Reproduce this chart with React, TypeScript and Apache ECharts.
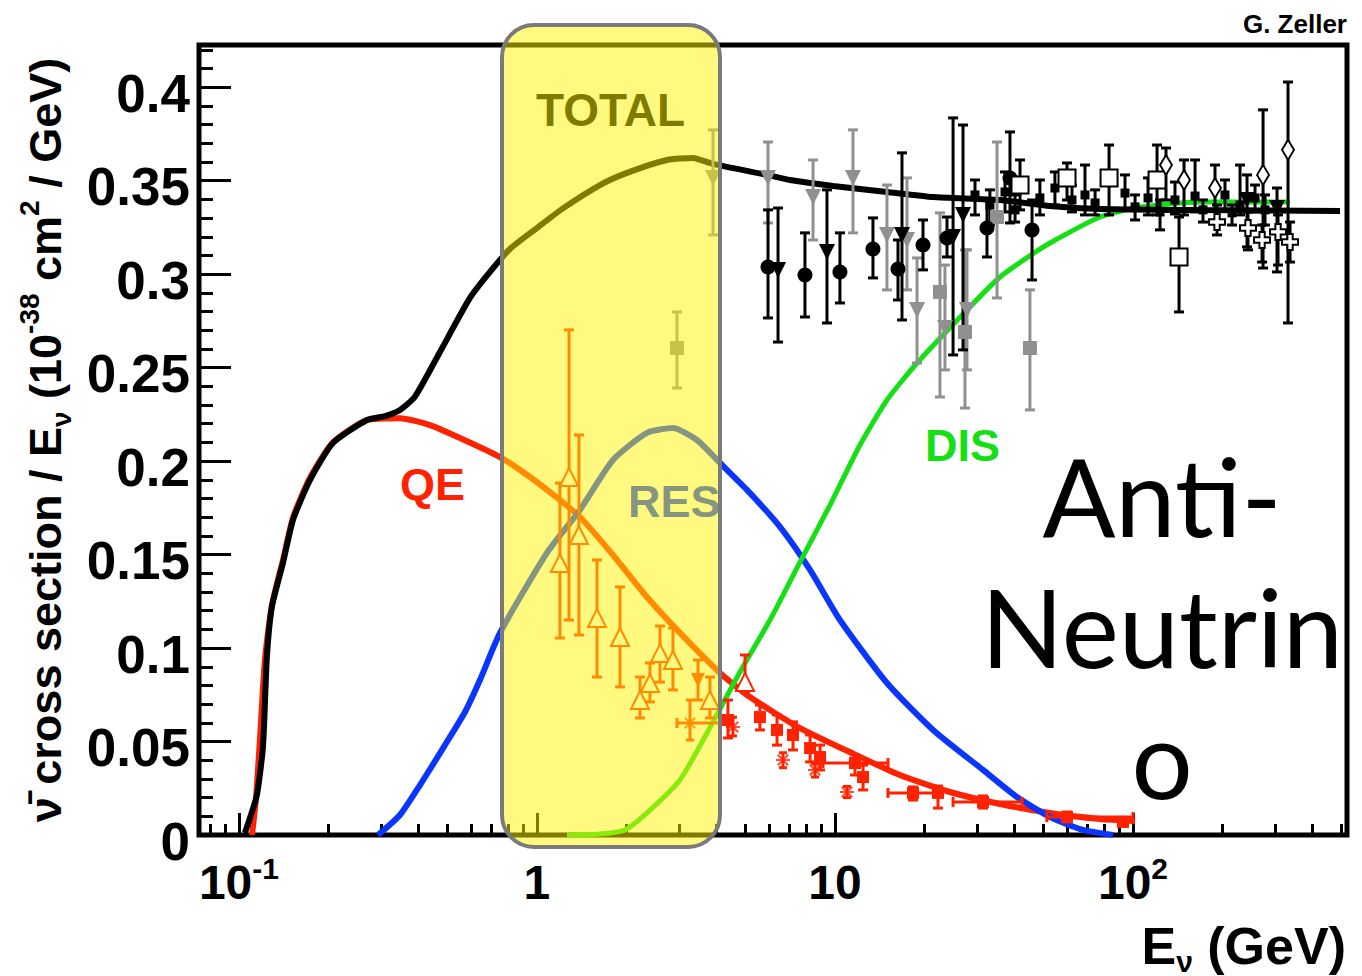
import React, { useEffect, useRef } from 'react';
import * as echarts from 'echarts';

const FONT = '"Liberation Sans", Arial, Helvetica, sans-serif';
const RED = '#ff2200';
const BLUE = '#0a35ff';
const GREEN = '#14e014';
const GRAY = '#909090';

// ---- axis ticks (energy in GeV, sigma/E in 1e-38 cm^2/GeV)
const xMajorTicks = [0.1, 1, 10, 100];
const xMinorTicks = [0.08, 0.09, 0.2, 0.3, 0.4, 0.5, 0.6, 0.7, 0.8, 0.9, 2, 3, 4, 5, 6, 7, 8, 9, 20, 30, 40, 50, 60, 70, 80, 90, 200, 300, 400, 500];
const yMajorTicks = [0, 0.05, 0.1, 0.15, 0.2, 0.25, 0.3, 0.35, 0.4];
const yMinorTicks = [0.01, 0.02, 0.03, 0.04, 0.06, 0.07, 0.08, 0.09, 0.11, 0.12, 0.13, 0.14, 0.16, 0.17, 0.18, 0.19, 0.21, 0.22, 0.23, 0.24, 0.26, 0.27, 0.28, 0.29, 0.31, 0.32, 0.33, 0.34, 0.36, 0.37, 0.38, 0.39, 0.41, 0.42];

// ---- model curves [E, sigma/E]
const totalCurve = [[0.1047, 0.0011], [0.1089, 0.0091], [0.1149, 0.0214], [0.1204, 0.0471], [0.1241, 0.0952], [0.129, 0.122], [0.1405, 0.1455], [0.1518, 0.1685], [0.1731, 0.1899], [0.2067, 0.2097], [0.2688, 0.222], [0.309, 0.2241], [0.347, 0.2274], [0.3896, 0.2345], [0.4726, 0.2584], [0.5959, 0.2873], [0.6955, 0.3012], [0.8118, 0.3135], [1.0, 0.3247], [1.222, 0.3352], [1.627, 0.3477], [2.004, 0.3542], [2.731, 0.3611], [3.338, 0.3622], [3.896, 0.359], [5.913, 0.3531], [7.063, 0.3504], [9.847, 0.3472], [14.94, 0.344], [21.33, 0.3413], [35.79, 0.3397], [52.66, 0.3365], [77.5, 0.3349], [167.8, 0.3343], [495, 0.3338]];
const qeCurve = [[0.1106, 0], [0.114, 0.019], [0.1176, 0.051], [0.1222, 0.0936], [0.129, 0.123], [0.1405, 0.147], [0.152, 0.17], [0.173, 0.191], [0.2067, 0.21], [0.2688, 0.222], [0.347, 0.223], [0.4375, 0.2193], [0.5515, 0.2124], [0.7515, 0.2022], [0.9474, 0.1915], [1.194, 0.1792], [1.394, 0.1701], [1.799, 0.1498], [2.339, 0.1273], [3.019, 0.1081], [4.113, 0.0867], [5.186, 0.0738], [7.63, 0.0572], [11.2, 0.0444], [16.5, 0.0321], [24.3, 0.023], [35.8, 0.0166], [52.6, 0.0118], [77.5, 0.0086], [101.6, 0.0075]];
const resCurve = [[0.2927, 0], [0.347, 0.0107], [0.405, 0.0267], [0.4912, 0.0481], [0.5734, 0.0658], [0.6437, 0.0829], [0.7515, 0.1081], [1.08, 0.1509], [1.394, 0.1739], [1.799, 0.2006], [2.339, 0.2151], [2.86, 0.2177], [3.443, 0.2113], [4.113, 0.199], [5.067, 0.1846], [6.539, 0.1648], [8.246, 0.1418], [10.39, 0.115], [14.94, 0.0813], [21.33, 0.0562], [31.38, 0.0348], [40.8, 0.0203], [52.66, 0.0096], [67.96, 0.0027], [85.7, 0]];
const disCurve = [[1.261, 0], [1.627, 0.0005], [1.974, 0.0027], [2.339, 0.0118], [3.019, 0.0294], [3.896, 0.0605], [4.8, 0.0872], [6.051, 0.115], [7.63, 0.146], [9.621, 0.1765], [12.13, 0.2086], [14.94, 0.2327], [18.85, 0.2525], [27.73, 0.2809], [35.79, 0.2985], [44.43, 0.3092], [52.66, 0.3167], [77.5, 0.3306], [105.6, 0.3359], [167.8, 0.3386], [336.4, 0.3386]];

// ---- measurements [E, value, low, high]
const grayDownTri = [[5.96, 0.3515, 0.3274, 0.3707], [8.44, 0.3413, 0.3183, 0.3611], [11.49, 0.3515, 0.3221, 0.3772], [14.94, 0.321, 0.2916, 0.3477], [17.44, 0.3183, 0.2916, 0.3515], [18.85, 0.2809, 0.2525, 0.3087], [23.39, 0.2712, 0.2488, 0.3049], [27.73, 0.2809, 0.2488, 0.313], [3.896, 0.3515, 0.321, 0.3772]];
const graySquare = [[2.95, 0.2605, 0.2391, 0.2798], [22.5, 0.2905, 0.2343, 0.3328], [27.3, 0.2691, 0.2284, 0.313], [34.97, 0.3306, 0.2873, 0.3707], [45.1, 0.2605, 0.2274, 0.2916]];
const blackCircle = [[5.96, 0.3039, 0.2766, 0.3344], [7.93, 0.2996, 0.2771, 0.3221], [10.39, 0.3012, 0.2846, 0.3221], [13.41, 0.3135, 0.298, 0.3301], [16.27, 0.3028, 0.2862, 0.3183], [19.74, 0.3156, 0.3023, 0.329], [23.76, 0.3194, 0.3092, 0.3306], [32.36, 0.3247, 0.3092, 0.3397], [38.65, 0.3515, 0.3274, 0.3761], [45.83, 0.3237, 0.2969, 0.3397]];
const blackDownTri = [[6.44, 0.3023, 0.2637, 0.3354], [9.4, 0.3119, 0.2739, 0.3451], [16.78, 0.321, 0.2755, 0.3649], [24.9, 0.3199, 0.2568, 0.3836], [26.89, 0.3317, 0.2595, 0.3798], [304.2, 0.3354, 0.3012, 0.3461], [241.3, 0.3397, 0.3146, 0.3531]];
const blackSmall = [[29.5, 0.3424, 0.3317, 0.3504], [33.1, 0.337, 0.3263, 0.3451], [37.2, 0.344, 0.3333, 0.3547], [40.2, 0.3344, 0.3279, 0.3424], [48.7, 0.3408, 0.3317, 0.3504], [54.7, 0.3461, 0.337, 0.3547], [62.4, 0.3397, 0.3333, 0.3477], [69.0, 0.3424, 0.3317, 0.3584], [74.6, 0.3381, 0.3317, 0.3451], [94.0, 0.3434, 0.3344, 0.3531], [101.6, 0.336, 0.329, 0.3424], [112.3, 0.3408, 0.3317, 0.3515], [123.2, 0.3333, 0.3237, 0.3397], [138.3, 0.3397, 0.3322, 0.3493], [161.5, 0.3418, 0.3333, 0.3611], [171.7, 0.3344, 0.3279, 0.3397], [203.5, 0.3424, 0.3344, 0.3504], [214.9, 0.3328, 0.3263, 0.337], [228.6, 0.337, 0.3317, 0.3584], [256.7, 0.3408, 0.3333, 0.3477], [277.3, 0.3344, 0.3263, 0.3424]];
const openSquare = [[142.7, 0.3092, 0.2798, 0.3306], [83.1, 0.3515, 0.3317, 0.3691], [60.05, 0.3515, 0.3397, 0.3595], [120.4, 0.3504, 0.3317, 0.3691], [41.77, 0.3477, 0.3344, 0.3611]];
const openDiamond = [[129.0, 0.3584, 0.3397, 0.3675], [148.3, 0.3504, 0.3317, 0.3611], [273.1, 0.3531, 0.3033, 0.3879], [331.2, 0.3665, 0.2739, 0.4028], [188.4, 0.3461, 0.3344, 0.3584]];
const openCross = [[191.4, 0.3279, 0.321, 0.337], [243.1, 0.3247, 0.313, 0.3333], [271.0, 0.3183, 0.3065, 0.3263], [306.6, 0.3226, 0.3049, 0.3317], [336.4, 0.3172, 0.3065, 0.3279]];
const redOpenTri = [[1.194, 0.1455, 0.1054, 0.1883], [1.281, 0.1915, 0.115, 0.2702], [1.383, 0.1605, 0.107, 0.214], [1.59, 0.1161, 0.0845, 0.1471], [1.899, 0.1059, 0.0792, 0.1327], [2.217, 0.0722, 0.0626, 0.0845], [2.394, 0.0813, 0.0712, 0.092], [2.587, 0.0974, 0.0818, 0.1118], [2.86, 0.0936, 0.0776, 0.1107], [3.807, 0.0722, 0.0626, 0.0845], [4.989, 0.0819, 0.0765, 0.0963]];
const redDownTri = [[3.47, 0.0829, 0.0722, 0.0936]];
const redSquare = [[4.374, 0.0615, 0.0519, 0.0722], [5.6, 0.0631, 0.0562, 0.0695], [6.39, 0.0562, 0.0481, 0.0642], [7.23, 0.0535, 0.0455, 0.0605], [8.25, 0.0465, 0.0391, 0.0535], [8.91, 0.0417, 0.0348, 0.0481], [11.67, 0.0385, 0.0321, 0.0428], [12.42, 0.031, 0.0241, 0.0374], [18.27, 0.0225, 0.0187, 0.0257], [22.16, 0.0225, 0.0144, 0.0262], [31.38, 0.0177, 0.0144, 0.0209], [60.05, 0.0096, 0.007, 0.0123], [92.55, 0.007, 0.0048, 0.0091]];
const redStar = [[4.547, 0.0578, 0.053, 0.063], [6.69, 0.0401, 0.036, 0.044], [10.97, 0.023, 0.02, 0.026], [3.262, 0.0599, 0.0508, 0.0722], [8.57, 0.0348, 0.031, 0.038]];
// horizontal error bars [E, value, Elow, Ehigh]
const redXErr = [[11.67, 0.0385, 9.11, 15.06], [18.27, 0.0225, 15.06, 22.44], [31.38, 0.0177, 24.9, 42.4], [60.05, 0.0096, 51.4, 100], [3.262, 0.0599, 2.95, 4.11]];

const X_MIN = -1.134;
const X_MAX = 2.718;
const Y_MAX = 0.4226;

const L = (e: number) => Math.log10(e);

function lineSeries(name: string, pts: number[][], color: string, width: number) {
  return {
    name, type: 'line', data: pts.map((p) => [L(p[0]), p[1]]), showSymbol: false, symbol: 'none',
    smooth: 0.2, lineStyle: { color, width }, z: 2, silent: true,
  };
}

function errBars(rows: number[][], color: string, width: number, cap: number) {
  return {
    type: 'custom', silent: true, z: 3,
    data: rows.map((r) => [L(r[0]), r[2], r[3]]),
    encode: { x: 0, y: [1, 2] },
    renderItem: (_p: any, api: any) => {
      const x = api.value(0);
      const a = api.coord([x, api.value(1)]);
      const b = api.coord([x, api.value(2)]);
      const st = { stroke: color, lineWidth: width };
      return {
        type: 'group', children: [
          { type: 'line', shape: { x1: a[0], y1: a[1], x2: b[0], y2: b[1] }, style: st },
          { type: 'line', shape: { x1: a[0] - cap, y1: a[1], x2: a[0] + cap, y2: a[1] }, style: st },
          { type: 'line', shape: { x1: b[0] - cap, y1: b[1], x2: b[0] + cap, y2: b[1] }, style: st },
        ],
      };
    },
  };
}

function hErrBars(rows: number[][], color: string, width: number, cap: number) {
  return {
    type: 'custom', silent: true, z: 3,
    data: rows.map((r) => [L(r[2]), L(r[3]), r[1]]),
    encode: { x: [0, 1], y: 2 },
    renderItem: (_p: any, api: any) => {
      const y = api.value(2);
      const a = api.coord([api.value(0), y]);
      const b = api.coord([api.value(1), y]);
      const st = { stroke: color, lineWidth: width };
      return {
        type: 'group', children: [
          { type: 'line', shape: { x1: a[0], y1: a[1], x2: b[0], y2: b[1] }, style: st },
          { type: 'line', shape: { x1: a[0], y1: a[1] - cap, x2: a[0], y2: a[1] + cap }, style: st },
          { type: 'line', shape: { x1: b[0], y1: b[1] - cap, x2: b[0], y2: b[1] + cap }, style: st },
        ],
      };
    },
  };
}

function marks(rows: number[][], symbol: string, size: any, fill: string, border: string | null, rotate = 0, bw = 2) {
  return {
    type: 'scatter', silent: true, z: 4, symbol, symbolSize: size, symbolRotate: rotate,
    data: rows.map((r) => [L(r[0]), r[1]]),
    itemStyle: { color: fill, borderColor: border || fill, borderWidth: border ? bw : 0, opacity: 1 },
  };
}

const CROSS = 'path://M-1,-3L1,-3L1,-1L3,-1L3,1L1,1L1,3L-1,3L-1,1L-3,1L-3,-1L-1,-1Z';
const STAR = 'path://M0,-4L0,4M-4,0L4,0M-3,-3L3,3M-3,3L3,-3';

const tickStyle = { color: '#000', width: 3 };
const hiddenLine = { show: false, onZero: false };

const option: any = {
  animation: false,
  backgroundColor: '#fff',
  grid: { left: 199, right: 15, top: 45, bottom: 141, show: true, borderColor: '#000', borderWidth: 5, backgroundColor: 'transparent' },
  xAxis: [
    {
      type: 'value', min: X_MIN, max: X_MAX, position: 'bottom',
      axisLine: hiddenLine, splitLine: { show: false },
      axisTick: { show: true, inside: true, length: 22, lineStyle: tickStyle, customValues: xMajorTicks.map(L) },
      axisLabel: {
        show: true, customValues: xMajorTicks.map(L), margin: 18,
        formatter: (v: number) => {
          const e = Math.round(v);
          if (e === 0) return '{b|1}';
          if (e === 1) return '{b|10}';
          return '{b|10}{s|' + e + '}';
        },
        rich: {
          b: { fontSize: 48, fontWeight: 'bold', fontFamily: FONT, color: '#000', lineHeight: 58 },
          s: { fontSize: 30, fontWeight: 'bold', fontFamily: FONT, color: '#000', verticalAlign: 'top', lineHeight: 30 },
        },
      },
    },
    {
      type: 'value', min: X_MIN, max: X_MAX, position: 'bottom',
      axisLine: hiddenLine, splitLine: { show: false }, axisLabel: { show: false },
      axisTick: { show: true, inside: true, length: 11, lineStyle: tickStyle, customValues: xMinorTicks.map(L) },
    },
  ],
  yAxis: [
    {
      type: 'value', min: 0, max: Y_MAX, position: 'left',
      axisLine: hiddenLine, splitLine: { show: false },
      axisTick: { show: true, inside: true, length: 32, lineStyle: tickStyle, customValues: yMajorTicks },
      axisLabel: {
        show: true, customValues: yMajorTicks, margin: 9,
        formatter: (v: number) => '{v|' + String(v) + '}',
        rich: {
          v: { fontSize: 53, fontWeight: 'bold', fontFamily: FONT, color: '#000', lineHeight: 56, padding: [12, 0, 0, 0] },
        },
      },
      name: '{m|\u03BD\u0304 cross section / E}{sub|\u03BD}{m| (10}{sup|-38}{m| cm}{sup|2}{m| / GeV)}',
      nameLocation: 'middle', nameRotate: 90, nameGap: 108,
      nameTextStyle: {
        rich: {
          m: { fontSize: 45, fontWeight: 'bold', fontFamily: FONT, color: '#000', lineHeight: 60 },
          sup: { fontSize: 28, fontWeight: 'bold', fontFamily: FONT, color: '#000', verticalAlign: 'top', lineHeight: 28 },
          sub: { fontSize: 28, fontWeight: 'bold', fontFamily: FONT, color: '#000', verticalAlign: 'bottom', lineHeight: 28 },
        },
      },
    },
    {
      type: 'value', min: 0, max: Y_MAX, position: 'left',
      axisLine: hiddenLine, splitLine: { show: false }, axisLabel: { show: false },
      axisTick: { show: true, inside: true, length: 14, lineStyle: tickStyle, customValues: yMinorTicks },
    },
  ],
  series: [
    lineSeries('QE', qeCurve, RED, 6),
    lineSeries('RES', resCurve, BLUE, 6),
    lineSeries('DIS', disCurve, GREEN, 5),
    lineSeries('TOTAL', totalCurve, '#000', 6),
    errBars(grayDownTri, GRAY, 3, 5),
    errBars(graySquare, GRAY, 3, 5),
    errBars(blackCircle, '#000', 3, 5),
    errBars(blackDownTri, '#000', 3, 5),
    errBars(blackSmall, '#000', 3, 5),
    errBars(openSquare, '#000', 3, 5),
    errBars(openDiamond, '#000', 3, 5),
    errBars(openCross, '#000', 3, 5),
    errBars(redOpenTri, RED, 3, 5),
    errBars(redDownTri, RED, 3, 5),
    errBars(redSquare, RED, 3, 5),
    errBars(redStar, RED, 3, 4),
    hErrBars(redXErr, RED, 3, 5),
    marks(grayDownTri, 'triangle', 16, GRAY, null, 180),
    marks(graySquare, 'rect', 14, GRAY, null),
    marks(blackCircle, 'circle', 15, '#000', null),
    marks(blackDownTri, 'triangle', 16, '#000', null, 180),
    marks(blackSmall, 'rect', 9, '#000', null),
    marks(openSquare, 'rect', 17, '#fff', '#000', 0, 2),
    marks(openDiamond, 'diamond', [12, 20], '#fff', '#000', 0, 2),
    marks(openCross, CROSS, 16, '#fff', '#000', 0, 2),
    marks(redOpenTri, 'triangle', 18, '#fff', RED, 0, 2),
    marks(redDownTri, 'triangle', 14, RED, null, 180),
    marks(redSquare, 'rect', 12, RED, null),
    {
      type: 'scatter', silent: true, z: 4, symbol: STAR, symbolSize: 14,
      data: redStar.map((r) => [L(r[0]), r[1]]),
      itemStyle: { color: 'none', borderColor: RED, borderWidth: 2 },
    },
  ],
  graphic: [
    { type: 'text', z: 10, x: 536, y: 110, style: { text: 'TOTAL', fontSize: 46, fontWeight: 'bold', fontFamily: FONT, fill: '#000', textAlign: 'left', textVerticalAlign: 'middle' } },
    { type: 'text', z: 10, x: 628, y: 501, style: { text: 'RES', fontSize: 45, fontWeight: 'bold', fontFamily: FONT, fill: BLUE, textAlign: 'left', textVerticalAlign: 'middle' } },
    { type: 'text', z: 10, x: 400, y: 484, style: { text: 'QE', fontSize: 45, fontWeight: 'bold', fontFamily: FONT, fill: RED, textAlign: 'left', textVerticalAlign: 'middle' } },
    { type: 'text', z: 10, x: 925, y: 445, style: { text: 'DIS', fontSize: 45, fontWeight: 'bold', fontFamily: FONT, fill: GREEN, textAlign: 'left', textVerticalAlign: 'middle' } },
    {
      type: 'rect', z: 50, shape: { x: 502, y: 25, width: 218, height: 822, r: 32 },
      style: { fill: 'rgba(255,245,0,0.5)', stroke: '#7a7a7a', lineWidth: 4 },
    },
    { type: 'text', z: 60, x: 1347, y: 24, style: { text: 'G. Zeller', fontSize: 26, fontWeight: 'bold', fontFamily: FONT, fill: '#000', textAlign: 'right', textVerticalAlign: 'middle' } },
    {
      type: 'text', z: 60, x: 1346, y: 946,
      style: {
        text: '{a|E}{s|\u03BD}{a| (GeV)}', textAlign: 'right', textVerticalAlign: 'middle',
        rich: {
          a: { fontSize: 52, fontWeight: 'bold', fontFamily: FONT, fill: '#000', lineHeight: 60 },
          s: { fontSize: 30, fontWeight: 'bold', fontFamily: FONT, fill: '#000', verticalAlign: 'bottom', lineHeight: 30 },
        },
      },
    },
    { type: 'text', z: 60, x: 1162, y: 495, style: { text: 'Anti-', fontSize: 108, fontFamily: 'Lato, "Open Sans", sans-serif', fill: '#000', textAlign: 'center', textVerticalAlign: 'middle' } },
    { type: 'text', z: 60, x: 1162, y: 626, style: { text: 'Neutrin', fontSize: 108, fontFamily: 'Lato, "Open Sans", sans-serif', fill: '#000', textAlign: 'center', textVerticalAlign: 'middle' } },
    { type: 'text', z: 60, x: 1162, y: 757, style: { text: 'o', fontSize: 108, fontFamily: 'Lato, "Open Sans", sans-serif', fill: '#000', textAlign: 'center', textVerticalAlign: 'middle' } },
  ],
};

export default function App() {
  const ref = useRef<HTMLDivElement>(null);
  useEffect(() => {
    const chart = echarts.init(ref.current as HTMLDivElement, null, { renderer: 'svg' });
    chart.setOption(option);
    return () => chart.dispose();
  }, []);
  return <div ref={ref} style={{ position: 'fixed', left: 0, top: 0, width: 1362, height: 976, background: '#fff' }} />;
}
